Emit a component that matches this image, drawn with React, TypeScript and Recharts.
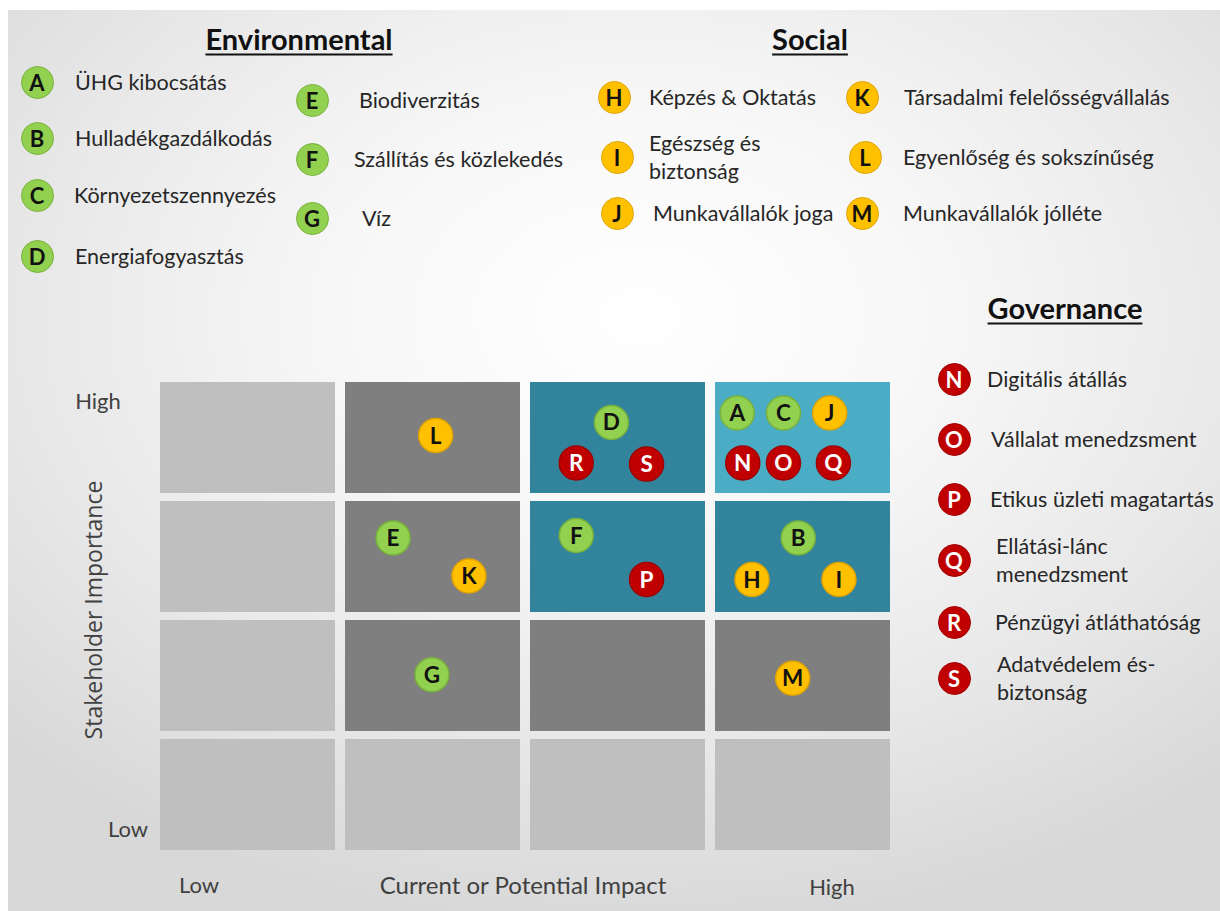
import { ScatterChart, Scatter, XAxis, YAxis, ReferenceArea } from 'recharts';

// topic groups (legend)
const envIds = ['A', 'B', 'C', 'D', 'E', 'F', 'G'];
const envLabels = [
  'ÜHG kibocsátás',
  'Hulladékgazdálkodás',
  'Környezetszennyezés',
  'Energiafogyasztás',
  'Biodiverzitás',
  'Szállítás és közlekedés',
  'Víz',
];
const socIds = ['H', 'I', 'J', 'K', 'L', 'M'];
const socLabels = [
  'Képzés & Oktatás',
  'Egészség és\nbiztonság',
  'Munkavállalók joga',
  'Társadalmi felelősségvállalás',
  'Egyenlőség és sokszínűség',
  'Munkavállalók jólléte',
];
const govIds = ['N', 'O', 'P', 'Q', 'R', 'S'];
const govLabels = [
  'Digitális átállás',
  'Vállalat menedzsment',
  'Etikus üzleti magatartás',
  'Ellátási-lánc\nmenedzsment',
  'Pénzügyi átláthatóság',
  'Adatvédelem és-\nbiztonság',
];

// matrix position of every topic (0..4 scale, 4 = High)
const topicIds = ['A', 'B', 'C', 'D', 'E', 'F', 'G', 'H', 'I', 'J', 'K', 'L', 'M', 'N', 'O', 'P', 'Q', 'R', 'S'];
const impactScores = [3.12, 3.45, 3.37, 2.44, 1.26, 2.25, 1.47, 3.2, 3.67, 3.62, 1.67, 1.49, 3.42, 3.15, 3.37, 2.63, 3.64, 2.25, 2.63];
const importanceScores = [3.74, 2.69, 3.74, 3.66, 2.69, 2.71, 1.54, 2.34, 2.34, 3.74, 2.37, 3.55, 1.51, 3.32, 3.32, 2.34, 3.32, 3.32, 3.31];

// cell shading level, rows from Low (0) to High (3), columns Low -> High impact
const matrixLevels = [
  [0, 0, 0, 0],
  [0, 1, 1, 1],
  [0, 1, 2, 2],
  [0, 1, 2, 3],
];

const axisTickLabels = ['Low', 'High'];
const xAxisTitle = 'Current or Potential Impact';
const yAxisTitle = 'Stakeholder Importance';
const groupTitles = ['Environmental', 'Social', 'Governance'];

const LEVEL_COLORS = ['#bfbfbf', '#7f7f7f', '#31849b', '#4bacc6'];
const GROUP_STYLE: Record<string, { fill: string; stroke: string; text: string }> = {
  env: { fill: '#92d050', stroke: '#78b23c', text: '#111' },
  soc: { fill: '#ffc000', stroke: '#e0a400', text: '#111' },
  gov: { fill: '#c00000', stroke: '#a00000', text: '#fff' },
};
const CELL_W = 175 / 185;
const CELL_H = 111 / 119;
const FONT = 'Lato, "Open Sans", sans-serif';

const groupOf = (id: string) => (envIds.includes(id) ? 'env' : socIds.includes(id) ? 'soc' : 'gov');

const points = topicIds.map((id, i) => ({
  id,
  group: groupOf(id),
  x: impactScores[i],
  y: importanceScores[i],
}));

// legend placement: [circle x, circle y, text x]
const legendPos: Record<string, [number, number, number]> = {
  A: [37, 82, 75], B: [37, 138, 75], C: [37, 195, 74], D: [37, 256, 75],
  E: [312, 100, 359], F: [312, 159, 354], G: [312, 218, 362],
  H: [614, 97, 649], I: [617, 157, 649], J: [617, 213, 653],
  K: [862, 97, 904], L: [865, 157, 903], M: [862, 213, 903],
  N: [954, 379, 987], O: [954, 439, 991], P: [954, 499, 990],
  Q: [954, 560, 996], R: [954, 622, 995], S: [954, 678, 997],
};

function Badge({ id, x, y }: { id: string; x: number; y: number }) {
  const s = GROUP_STYLE[groupOf(id)];
  return (
    <div
      style={{
        position: 'absolute',
        left: x - 16.5,
        top: y - 16.5,
        width: 31,
        height: 31,
        borderRadius: '50%',
        background: s.fill,
        border: `1.5px solid ${s.stroke}`,
        color: s.text,
        fontFamily: FONT,
        fontWeight: 700,
        fontSize: 22,
        lineHeight: '31px',
        textAlign: 'center',
      }}
    >
      {id}
    </div>
  );
}

function LegendItem({ id, label }: { id: string; label: string }) {
  const [cx, cy, tx] = legendPos[id];
  const lines = label.split('\n');
  return (
    <>
      <Badge id={id} x={cx} y={cy} />
      <div
        style={{
          position: 'absolute',
          left: tx,
          top: cy,
          transform: 'translateY(-50%)',
          fontFamily: FONT,
          fontSize: 21.5,
          lineHeight: '28px',
          color: '#262626',
          whiteSpace: 'nowrap',
        }}
      >
        {lines.map((l) => (
          <div key={l}>{l}</div>
        ))}
      </div>
    </>
  );
}

function Title({ text, x, y }: { text: string; x: number; y: number }) {
  return (
    <div
      style={{
        position: 'absolute',
        left: x,
        top: y,
        transform: 'translate(-50%, -50%)',
        fontFamily: FONT,
        fontWeight: 700,
        fontSize: 29,
        color: '#111',
        textDecoration: 'underline',
        textUnderlineOffset: 4,
        textDecorationThickness: 2,
        whiteSpace: 'nowrap',
      }}
    >
      {text}
    </div>
  );
}

function PointShape(props: any) {
  const { cx, cy, payload } = props;
  const s = GROUP_STYLE[payload.group];
  return (
    <g>
      <circle cx={cx} cy={cy} r={17} fill={s.fill} stroke={s.stroke} strokeWidth={1.5} />
      <text
        x={cx}
        y={cy + 8}
        textAnchor="middle"
        fontFamily={FONT}
        fontWeight={700}
        fontSize={22.5}
        fill={s.text}
      >
        {payload.id}
      </text>
    </g>
  );
}

const axisText = (extra: any) => ({
  position: 'absolute' as const,
  fontFamily: FONT,
  fontSize: 22,
  color: '#404040',
  whiteSpace: 'nowrap' as const,
  transform: 'translate(-50%, -50%)',
  ...extra,
});

export default function App() {
  return (
    <div style={{ position: 'absolute', left: 0, top: 0, width: 1220, height: 911, background: '#fff', overflow: 'hidden' }}>
      <div
        style={{
          position: 'absolute',
          left: 8,
          top: 10,
          width: 1212,
          height: 901,
          background:
            'radial-gradient(ellipse 72% 68% at 52% 34%, #ffffff 0%, #f7f7f7 35%, #e8e8e8 70%, #d8d8d8 100%)',
        }}
      />

      <ScatterChart
        width={1220}
        height={911}
        margin={{ top: 382, left: 160, right: 320, bottom: 53 }}
        style={{ position: 'absolute', left: 0, top: 0 }}
      >
        <XAxis type="number" dataKey="x" domain={[0, 4]} hide />
        <YAxis type="number" dataKey="y" domain={[0, 4]} hide />
        {matrixLevels.map((row, r) =>
          row.map((lvl, c) => (
            <ReferenceArea
              key={`cell-${r}-${c}`}
              x1={c}
              x2={c + CELL_W}
              y1={r + 1 - CELL_H}
              y2={r + 1}
              fill={LEVEL_COLORS[lvl]}
              fillOpacity={1}
              stroke="none"
            />
          ))
        )}
        {['env', 'soc', 'gov'].map((g) => (
          <Scatter
            key={g}
            data={points.filter((p) => p.group === g)}
            shape={PointShape}
            isAnimationActive={false}
          />
        ))}
      </ScatterChart>

      {/* axis texts */}
      <div style={axisText({ left: 98, top: 400 })}>{axisTickLabels[1]}</div>
      <div style={axisText({ left: 128, top: 828 })}>{axisTickLabels[0]}</div>
      <div
        style={axisText({
          left: 93,
          top: 610,
          fontFamily: '"Open Sans", sans-serif',
          fontSize: 23,
          transform: 'translate(-50%, -50%) rotate(-90deg)',
        })}
      >
        {yAxisTitle}
      </div>
      <div style={axisText({ left: 199, top: 884 })}>{axisTickLabels[0]}</div>
      <div style={axisText({ left: 523, top: 884, fontSize: 24 })}>{xAxisTitle}</div>
      <div style={axisText({ left: 832, top: 886 })}>{axisTickLabels[1]}</div>

      {/* legends */}
      <Title text={groupTitles[0]} x={299} y={38} />
      <Title text={groupTitles[1]} x={810} y={38} />
      <Title text={groupTitles[2]} x={1065} y={307} />
      {envIds.map((id, i) => (
        <LegendItem key={id} id={id} label={envLabels[i]} />
      ))}
      {socIds.map((id, i) => (
        <LegendItem key={id} id={id} label={socLabels[i]} />
      ))}
      {govIds.map((id, i) => (
        <LegendItem key={id} id={id} label={govLabels[i]} />
      ))}
    </div>
  );
}
